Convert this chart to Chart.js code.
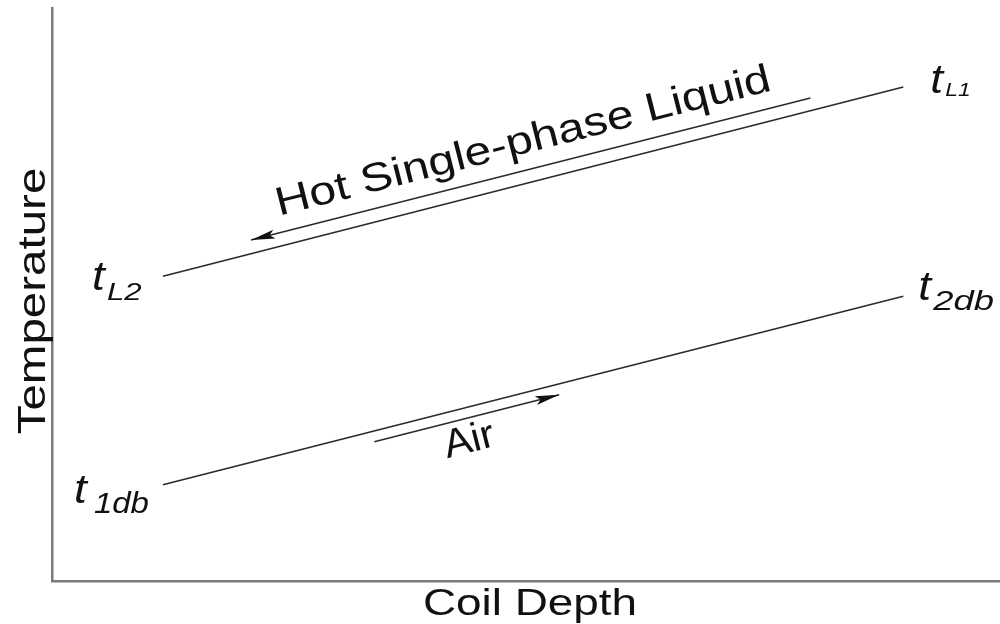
<!DOCTYPE html>
<html lang="en">
<head>
    <meta charset="UTF-8">
    <title>Coil Depth vs Temperature</title>
    <style>
        html, body { margin: 0; padding: 0; background: #fff; }
        .chart-box { width: 1000px; height: 624px; }
    </style>
    <script src="https://cdn.jsdelivr.net/npm/chart.js"></script>
</head>
<body>
    <div class="chart-box">
        <canvas id="coilChart" width="1000" height="624"></canvas>
    </div>

    <script>
        // values (normalized 0..10 on both axes)
        const depth = [1.17, 8.98];
        const liquidTemp = [5.32, 8.62];
        const airTemp = [1.68, 4.97];

        // flow direction arrows
        const liquidArrowDepth = [8.0, 2.1];
        const liquidArrowTemp = [8.43, 5.95];
        const airArrowDepth = [3.4, 5.35];
        const airArrowTemp = [2.43, 3.25];

        const axisTitles = ['Coil Depth', 'Temperature'];
        const flowLabels = ['Hot Single-phase Liquid', 'Air'];

        const FONT = '"Liberation Sans", Arial, sans-serif';
        const INK = '#111';

        function pts(xs, ys) {
            return xs.map((x, i) => ({ x: x, y: ys[i] }));
        }

        // draw text stretched along its own direction (the source is wide-set)
        function stretchText(ctx, str, x, y, angle, font, sx, align) {
            ctx.save();
            ctx.translate(x, y);
            ctx.rotate(angle);
            ctx.scale(sx, 1);
            ctx.font = font;
            ctx.textAlign = align || 'left';
            ctx.textBaseline = 'alphabetic';
            ctx.fillStyle = INK;
            ctx.fillText(str, 0, 0);
            ctx.restore();
        }

        // arrowheads at the last point of datasets flagged with arrow: true
        const arrowPlugin = {
            id: 'arrowPlugin',
            afterDatasetsDraw(chart) {
                const ctx = chart.ctx;
                chart.data.datasets.forEach((ds, i) => {
                    if (!ds.arrow) return;
                    const meta = chart.getDatasetMeta(i);
                    const n = meta.data.length;
                    const a = meta.data[n - 2], b = meta.data[n - 1];
                    const ang = Math.atan2(b.y - a.y, b.x - a.x);
                    const len = 24, half = 4.5;
                    ctx.save();
                    ctx.translate(b.x, b.y);
                    ctx.rotate(ang);
                    ctx.beginPath();
                    ctx.moveTo(0, 0);
                    ctx.lineTo(-len, -half);
                    ctx.lineTo(-len * 0.8, 0);
                    ctx.lineTo(-len, half);
                    ctx.closePath();
                    ctx.fillStyle = INK;
                    ctx.fill();
                    ctx.restore();
                });
            }
        };

        // end labels, flow labels and axis titles
        const labelPlugin = {
            id: 'labelPlugin',
            afterDraw(chart) {
                const ctx = chart.ctx;
                const xs = chart.scales.x, ys = chart.scales.y;
                const px = v => xs.getPixelForValue(v);
                const py = v => ys.getPixelForValue(v);

                const ends = [
                    { sub: 'L2', x: depth[0], y: liquidTemp[0], tdx: -71, tdy: 14, sdx: -56, sdy: 24, size: 24, sx: 1.3 },
                    { sub: '1db', x: depth[0], y: airTemp[0], tdx: -89, tdy: 18, sdx: -69, sdy: 28, size: 30, sx: 1.1 },
                    { sub: 'L1', x: depth[1], y: liquidTemp[1], tdx: 27, tdy: 6, sdx: 42, sdy: 9, size: 19, sx: 1.2 },
                    { sub: '2db', x: depth[1], y: airTemp[1], tdx: 15, tdy: 4, sdx: 30, sdy: 14, size: 28, sx: 1.3 }
                ];
                ends.forEach(l => {
                    const x0 = px(l.x), y0 = py(l.y);
                    stretchText(ctx, 't', x0 + l.tdx, y0 + l.tdy, 0, 'italic 40px ' + FONT, 1.15);
                    stretchText(ctx, l.sub, x0 + l.sdx, y0 + l.sdy, 0, 'italic ' + l.size + 'px ' + FONT, l.sx);
                });

                // flow labels sit parallel to their arrows
                const la = Math.atan2(py(liquidArrowTemp[1]) - py(liquidArrowTemp[0]), px(liquidArrowDepth[1]) - px(liquidArrowDepth[0])) + Math.PI;
                stretchText(ctx, flowLabels[0], 526, 153, la, '40px ' + FONT, 1.2, 'center');
                const aa = Math.atan2(py(airArrowTemp[1]) - py(airArrowTemp[0]), px(airArrowDepth[1]) - px(airArrowDepth[0]));
                stretchText(ctx, flowLabels[1], 472, 452, aa, '40px ' + FONT, 1.05, 'center');

                // axis titles
                stretchText(ctx, axisTitles[0], 530, 615, 0, '37px ' + FONT, 1.24, 'center');
                stretchText(ctx, axisTitles[1], 45, 301, -Math.PI / 2, '38px ' + FONT, 1.25, 'center');
            }
        };

        const lineStyle = {
            showLine: true,
            fill: false,
            borderColor: '#2b2b2b',
            borderWidth: 1.6,
            pointRadius: 0,
            tension: 0
        };

        const data = {
            datasets: [
                Object.assign({ label: 'Hot Single-phase Liquid', data: pts(depth, liquidTemp) }, lineStyle),
                Object.assign({ label: 'Air', data: pts(depth, airTemp) }, lineStyle),
                Object.assign({ label: 'Liquid flow', data: pts(liquidArrowDepth, liquidArrowTemp), arrow: true }, lineStyle),
                Object.assign({ label: 'Air flow', data: pts(airArrowDepth, airArrowTemp), arrow: true }, lineStyle)
            ]
        };

        const axisOpts = {
            type: 'linear',
            min: 0,
            max: 10,
            grid: { display: false },
            ticks: { display: false },
            border: { display: true, color: '#7a7a7a', width: 2.5 }
        };

        new Chart(document.getElementById('coilChart').getContext('2d'), {
            type: 'scatter',
            data: data,
            options: {
                responsive: false,
                animation: false,
                events: [],
                layout: { padding: { left: 44, top: 8, right: 0, bottom: 35 } },
                plugins: {
                    legend: { display: false },
                    tooltip: { enabled: false }
                },
                scales: {
                    x: axisOpts,
                    y: axisOpts
                }
            },
            plugins: [arrowPlugin, labelPlugin]
        });
    </script>
</body>
</html>
